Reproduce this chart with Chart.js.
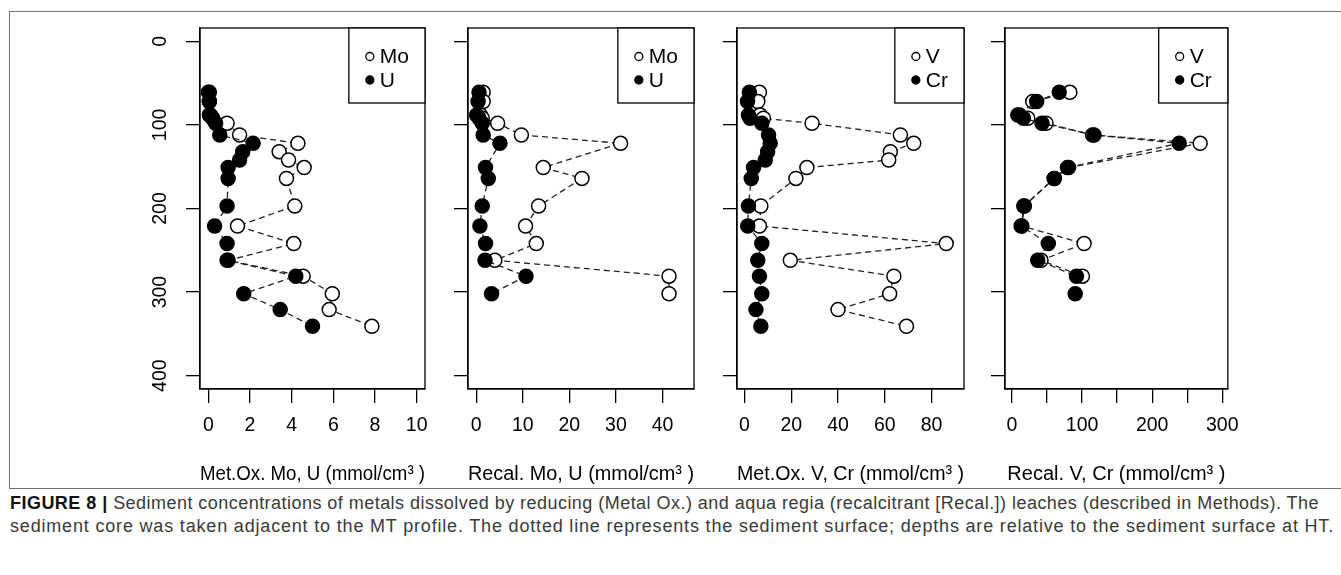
<!DOCTYPE html>
<html>
<head>
<meta charset="utf-8">
<script src="https://cdn.jsdelivr.net/npm/chart.js@4.4.1/dist/chart.umd.min.js"></script>
<style>
    html, body { margin: 0; padding: 0; background: #fff; }
    body { width: 1341px; height: 575px; position: relative; overflow: hidden; font-family: "Liberation Sans", Arial, sans-serif; }
    .frame { position: absolute; left: 9px; top: 11px; width: 1345px; height: 476px; border: 1px solid #707070; }
    .panel { position: absolute; top: 0; }
    .caption { position: absolute; left: 10px; font-size: 18px; line-height: 20px; color: #3a3a3a; white-space: nowrap; }
    .caption b { color: #111; }
</style>
</head>
<body>
<div class="frame"></div>
<div class="caption" id="cap1" data-width="1309"><b>FIGURE 8 |</b> Sediment concentrations of metals dissolved by reducing (Metal Ox.) and aqua regia (recalcitrant [Recal.]) leaches (described in Methods). The</div>
<div class="caption" id="cap2" data-width="1324">sediment core was taken adjacent to the MT profile. The dotted line represents the sediment surface; depths are relative to the sediment surface at HT.</div>

<script>
// Sample depths (relative to sediment surface)
const depthOx = [61, 72, 88, 92, 98, 112, 122, 132, 142, 151, 164, 197, 221, 242, 262, 281, 302, 321, 341];
const depthRecal = [61, 72, 88, 92, 98, 112, 122, 151, 164, 197, 221, 242, 262, 281, 302];

// Met.Ox. Mo, U
const oxMo = [0.05, 0.05, 0.1, 0.2, 0.9, 1.5, 4.3, 3.4, 3.85, 4.6, 3.75, 4.15, 1.4, 4.1, 0.95, 4.55, 5.95, 5.8, 7.85];
const oxU = [0.0, 0.05, 0.05, 0.2, 0.35, 0.55, 2.15, 1.65, 1.5, 0.95, 0.95, 0.9, 0.3, 0.9, 0.9, 4.2, 1.7, 3.45, 5.0];

// Recal. Mo, U
const recalMo = [1.5, 1.5, 0.9, 1.3, 4.6, 9.7, 31.0, 14.4, 22.7, 13.4, 10.6, 12.9, 4.0, 41.4, 41.4];
const recalU = [0.6, 0.4, 0.1, 0.6, 1.3, 1.5, 5.1, 2.0, 2.6, 1.3, 0.8, 2.0, 1.9, 10.7, 3.3];

// Met.Ox. V, Cr
const oxV = [6.4, 5.7, 6.7, 8.1, 28.9, 66.7, 72.4, 62.4, 61.7, 26.7, 22.0, 7.0, 6.4, 86.3, 19.6, 63.9, 62.1, 40.0, 69.3];
const oxCr = [2.1, 1.3, 1.7, 2.4, 7.4, 10.3, 11.0, 9.9, 8.9, 3.9, 2.9, 1.7, 1.4, 7.4, 5.7, 6.4, 7.4, 4.9, 7.0];

// Recal. V, Cr (no V value at the deepest sample)
const recalV = [82.6, 29.6, 10.6, 22.5, 48.5, 115, 268.5, 80.7, 60.3, 17.7, 14, 102.9, 41.4, 100.5, null];
const recalCr = [67.4, 35.2, 8.3, 16.3, 42.8, 117, 238.6, 79.2, 60.3, 16.8, 13, 51.8, 36.7, 92, 90.2];

// Tick values / labels
const depthTicks = [0, 100, 200, 300, 400];
const ticksOxMoU = [0, 2, 4, 6, 8, 10];
const ticksRecalMoU = [0, 10, 20, 30, 40];
const ticksOxVCr = [0, 20, 40, 60, 80];
const ticksRecalVCr = [0, 50, 100, 150, 200, 250, 300];
const labelsRecalVCr = ['0', '', '100', '', '200', '', '300'];

const FONT = '"Liberation Sans", Arial, sans-serif';
const BOX_TOP = 28, BOX_BOTTOM = 389, CANVAS_H = 500, Y_AXIS_W = 80, RIGHT_PAD = 20;

const panels = [
    { boxLeft: 200, boxRight: 425, xMin: -0.4, xMax: 10.4, ticks: ticksOxMoU,
      title: 'Met.Ox. Mo, U (mmol/cm\u00B3 )',
      series: [{ label: 'Mo', depths: depthOx, values: oxMo, open: true },
               { label: 'U', depths: depthOx, values: oxU, open: false }] },
    { boxLeft: 468, boxRight: 694, xMin: -1.76, xMax: 46.76, ticks: ticksRecalMoU,
      title: 'Recal. Mo, U (mmol/cm\u00B3 )',
      series: [{ label: 'Mo', depths: depthRecal, values: recalMo, open: true },
               { label: 'U', depths: depthRecal, values: recalU, open: false }] },
    { boxLeft: 737, boxRight: 964, xMin: -3.2, xMax: 93.9, ticks: ticksOxVCr,
      title: 'Met.Ox. V, Cr (mmol/cm\u00B3 )',
      series: [{ label: 'V', depths: depthOx, values: oxV, open: true },
               { label: 'Cr', depths: depthOx, values: oxCr, open: false }] },
    { boxLeft: 1005, boxRight: 1230, xMin: -10, xMax: 308, ticks: ticksRecalVCr, labels: labelsRecalVCr,
      title: 'Recal. V, Cr (mmol/cm\u00B3 )',
      series: [{ label: 'V', depths: depthRecal, values: recalV, open: true },
               { label: 'Cr', depths: depthRecal, values: recalCr, open: false }] }
];

// R-style box around the plotting region
const boxPlugin = {
    id: 'plotBox',
    afterDraw(chart) {
        const { ctx, chartArea: a } = chart;
        ctx.save();
        ctx.strokeStyle = '#000';
        ctx.lineWidth = 1.3;
        ctx.strokeRect(a.left, a.top, a.right - a.left, a.bottom - a.top);
        ctx.restore();
    }
};

// Legend box in the top-right corner
const legendPlugin = {
    id: 'legendBox',
    afterDraw(chart) {
        const { ctx, chartArea: a } = chart;
        const sets = chart.data.datasets;
        ctx.save();
        ctx.font = '21px ' + FONT;
        const textW = Math.max(...sets.map(d => ctx.measureText(d.label).width));
        const w = 47 + textW, h = 75;
        const x0 = a.right - w, y0 = a.top;
        ctx.fillStyle = '#fff';
        ctx.fillRect(x0, y0, w, h);
        ctx.strokeStyle = '#000';
        ctx.lineWidth = 1.3;
        ctx.strokeRect(x0, y0, w, h);
        sets.forEach((d, i) => {
            const cy = y0 + 28.5 + i * 23.5;
            ctx.beginPath();
            ctx.arc(x0 + 21, cy, 4, 0, Math.PI * 2);
            ctx.fillStyle = d.isOpen ? '#fff' : '#000';
            ctx.fill();
            ctx.lineWidth = 1.3;
            ctx.stroke();
            ctx.fillStyle = '#000';
            ctx.textBaseline = 'middle';
            ctx.textAlign = 'left';
            ctx.fillText(d.label, x0 + 31, cy + 1);
        });
        ctx.restore();
    }
};

panels.forEach((p, idx) => {
    const div = document.createElement('div');
    div.className = 'panel';
    const width = p.boxRight - p.boxLeft + Y_AXIS_W + RIGHT_PAD;
    div.style.left = (p.boxLeft - Y_AXIS_W) + 'px';
    const canvas = document.createElement('canvas');
    canvas.width = width;
    canvas.height = CANVAS_H;
    canvas.style.width = width + 'px';
    canvas.style.height = CANVAS_H + 'px';
    div.appendChild(canvas);
    document.body.appendChild(div);

    const datasets = p.series.map(s => ({
        label: s.label,
        isOpen: s.open,
        order: s.open ? 1 : 0,
        data: s.depths.map((d, i) => ({ x: s.values[i], y: d })).filter(pt => pt.x !== null),
        showLine: true,
        borderColor: '#222',
        borderWidth: 1.3,
        borderDash: [6, 4],
        pointRadius: 7,
        pointBorderWidth: 1.5,
        pointBorderColor: '#000',
        pointBackgroundColor: s.open ? '#fff' : '#000',
        pointStyle: 'circle'
    }));

    const gridOpts = { drawOnChartArea: false, drawTicks: true, tickLength: 14, color: '#000', lineWidth: 1.3 };
    const borderOpts = { display: true, color: '#000', width: 1.3 };

    new Chart(canvas.getContext('2d'), {
        type: 'scatter',
        data: { datasets },
        options: {
            responsive: false,
            animation: false,
            layout: { padding: { top: BOX_TOP, right: RIGHT_PAD, left: 0, bottom: 0 } },
            plugins: { legend: { display: false }, tooltip: { enabled: false } },
            scales: {
                x: {
                    type: 'linear',
                    position: 'bottom',
                    min: p.xMin,
                    max: p.xMax,
                    afterBuildTicks: s => { s.ticks = p.ticks.map(v => ({ value: v })); },
                    afterFit: s => { s.height = CANVAS_H - BOX_BOTTOM; },
                    grid: gridOpts,
                    border: borderOpts,
                    ticks: {
                        color: '#000',
                        font: { size: 19.5, family: FONT },
                        padding: 11,
                        maxRotation: 0,
                        autoSkip: false,
                        callback: (v, i) => p.labels ? p.labels[i] : String(p.ticks[i])
                    },
                    title: {
                        display: true,
                        text: p.title,
                        color: '#000',
                        font: { size: 20, family: FONT },
                        padding: { top: 0, bottom: 14 }
                    }
                },
                y: {
                    type: 'linear',
                    position: 'left',
                    reverse: true,
                    min: -16,
                    max: 416,
                    afterBuildTicks: s => { s.ticks = depthTicks.map(v => ({ value: v })); },
                    afterFit: s => { s.width = Y_AXIS_W; },
                    grid: gridOpts,
                    border: borderOpts,
                    ticks: {
                        display: idx === 0,
                        color: '#000',
                        font: { size: 19.5, family: FONT },
                        minRotation: 90,
                        maxRotation: 90,
                        crossAlign: 'center',
                        padding: 9,
                        autoSkip: false
                    }
                }
            }
        },
        plugins: [boxPlugin, legendPlugin]
    });
});

// caption lines: stretch to the reference width
['cap1', 'cap2'].forEach((id, i) => {
    const el = document.getElementById(id);
    el.style.top = (493 + i * 23) + 'px';
    const target = parseFloat(el.dataset.width);
    const w = el.getBoundingClientRect().width;
    const n = el.textContent.length;
    el.style.letterSpacing = ((target - w) / n) + 'px';
});
</script>
</body>
</html>
